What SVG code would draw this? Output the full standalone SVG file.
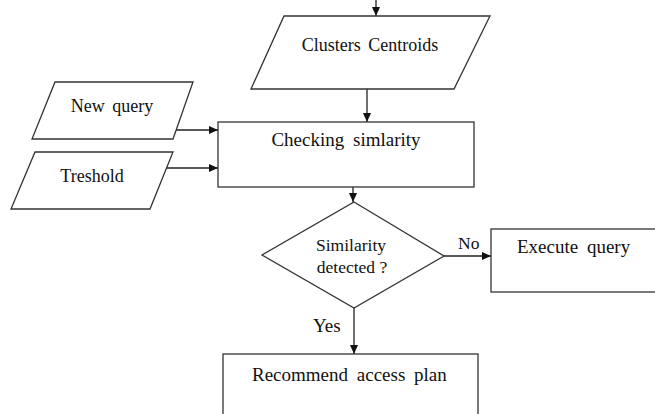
<svg xmlns="http://www.w3.org/2000/svg" width="655" height="414" viewBox="0 0 655 414">
<defs>
<style>
.s{fill:#fff;stroke:#333;stroke-width:1.3}
.t{font-family:"Liberation Serif","Times New Roman",serif;font-size:18px;fill:#111;word-spacing:3px}
.b{font-size:19px;word-spacing:4px}
.d{font-size:17.5px;word-spacing:0}
.c{stroke:#222;stroke-width:1.3;fill:none}
</style>
<marker id="a" markerWidth="10" markerHeight="10" refX="9" refY="5" orient="auto" markerUnits="userSpaceOnUse">
<path d="M0,1 L9,5 L0,9 Z" fill="#111"/>
</marker>
</defs>
<rect width="655" height="414" fill="#fff"/>
<g id="connectors">
<path class="c" d="M376,0 L376,16" marker-end="url(#a)"/>
<path class="c" d="M367,89 L367,122" marker-end="url(#a)"/>
<path class="c" d="M173,130 L218,130" marker-end="url(#a)"/>
<path class="c" d="M165,168 L218,168" marker-end="url(#a)"/>
<path class="c" d="M353,187 L353,202" marker-end="url(#a)"/>
<path class="c" d="M444,256 L491,256" marker-end="url(#a)"/>
<path class="c" d="M354,308 L354,354" marker-end="url(#a)"/>
<text class="t d" x="458" y="249">No</text>
<text class="t" x="313" y="332" style="font-size:19px">Yes</text>
</g>
<g id="clusters">
<polygon class="s" points="284,16 490,16 454,89 251,89"/>
<text class="t" x="370" y="51" text-anchor="middle">Clusters Centroids</text>
</g>
<g id="newquery">
<polygon class="s" points="55,82 193,82 173,139 32,139"/>
<text class="t" x="112" y="112" text-anchor="middle">New query</text>
</g>
<g id="treshold">
<polygon class="s" points="35,152 173,152 150,209 11,209"/>
<text class="t" x="92" y="182" text-anchor="middle">Treshold</text>
</g>
<g id="checking">
<rect class="s" x="218" y="122" width="256" height="65"/>
<text class="t b" x="346" y="146" text-anchor="middle">Checking simlarity</text>
</g>
<g id="decision">
<polygon class="s" points="354,202 444,256 354,308 262,255"/>
<text class="t d" x="351" y="251" text-anchor="middle">Similarity</text>
<text class="t d" x="352" y="273" text-anchor="middle">detected ?</text>
</g>
<g id="execute">
<rect class="s" x="491" y="229" width="170" height="63"/>
<text class="t b" x="517" y="253">Execute query</text>
</g>
<g id="recommend">
<rect class="s" x="223" y="354" width="255" height="70"/>
<text class="t b" x="252" y="381">Recommend access plan</text>
</g>
</svg>
